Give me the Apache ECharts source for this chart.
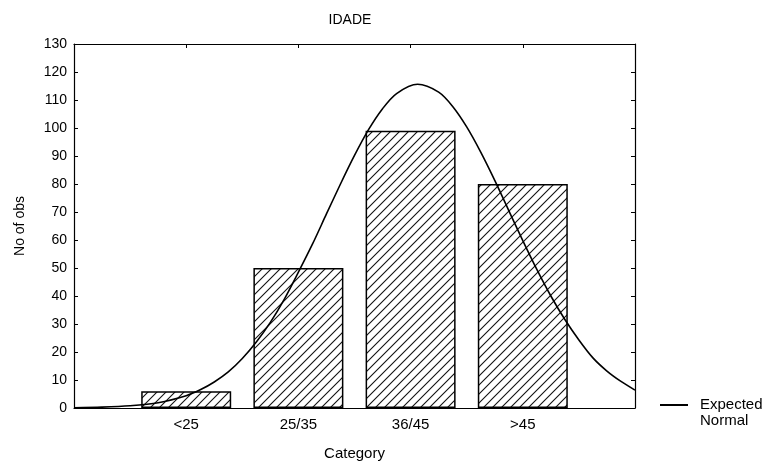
<!DOCTYPE html>
<html><head><meta charset="utf-8">
<script src="https://cdn.jsdelivr.net/npm/echarts@6/dist/echarts.min.js"></script>
<style>html,body{margin:0;padding:0;background:#fff}#c{width:766px;height:462px}</style>
</head><body><div id="c"></div>
<script>
const title = 'IDADE';
const categories = ['<25', '25/35', '36/45', '>45'];
const counts = [6, 50, 99, 80];
// Expected normal curve (x in category slots, 0..5)
const curveX = [0, 0.25, 0.5, 0.75, 1, 1.125, 1.25, 1.375, 1.5, 1.625, 1.75, 1.875, 2, 2.125, 2.25, 2.375, 2.5, 2.625, 2.75, 2.875, 3.0625, 3.25, 3.375, 3.5, 3.625, 3.75, 3.875, 4, 4.125, 4.25, 4.375, 4.5, 4.625, 4.75, 4.875, 5];
const curveY = [0.1, 0.3, 0.8, 1.9, 4.4, 6.5, 9.3, 12.9, 17.7, 23.6, 30.6, 38.9, 48.5, 58.5, 69.3, 80.0, 90.2, 99.4, 106.9, 112.3, 115.6, 112.8, 107.7, 100.4, 91.4, 81.3, 70.5, 59.8, 49.5, 40.0, 31.6, 24.3, 17.9, 13.2, 9.5, 6.4];

function hatch() {
  const s = 9;
  const c = document.createElement('canvas');
  c.width = s; c.height = s;
  const g = c.getContext('2d');
  g.fillStyle = '#fff'; g.fillRect(0, 0, s, s);
  g.strokeStyle = '#111'; g.lineWidth = 1.1;
  g.beginPath();
  g.moveTo(-1, s + 1); g.lineTo(s + 1, -1);
  g.moveTo(-1, 1); g.lineTo(1, -1);
  g.moveTo(s - 1, s + 1); g.lineTo(s + 1, s - 1);
  g.stroke();
  return c;
}

const font = 'Liberation Sans, Arial, sans-serif';
const chart = echarts.init(document.getElementById('c'), null, {renderer: 'canvas'});
const barData = counts.map((v, i) => [i + 1, v]);
const lineData = curveX.map((x, i) => [x, curveY[i]]);
const axisLine = {show: true, onZero: false, lineStyle: {color: '#000', width: 1.2}};
const tick = {show: true, inside: true, length: 4, lineStyle: {color: '#000'}};
chart.setOption({
  animation: false,
  backgroundColor: '#fff',
  title: {text: title, left: 345, top: 8, textAlign: 'center',
    textStyle: {fontFamily: font, fontSize: 14, fontWeight: 'normal', color: '#000'}},
  grid: {left: 74, right: 131, top: 44, bottom: 54, outerBoundsMode: 'none', containLabel: false},
  legend: {
    left: 660, top: 381, itemWidth: 28, itemHeight: 2, itemGap: 0, padding: 0,
    data: [{name: 'Expected Normal', icon: 'rect', itemStyle: {color: '#000'}}],
    formatter: () => ' \nExpected\nNormal',
    textStyle: {fontFamily: font, fontSize: 15, color: '#000', lineHeight: 16, padding: [0, 0, 0, 7]}
  },
  xAxis: [
    {type: 'value', min: 0, max: 5, interval: 1, position: 'bottom',
     name: 'Category', nameLocation: 'middle', nameGap: 38,
     nameTextStyle: {fontFamily: font, fontSize: 15, color: '#000'},
     axisLine: axisLine, splitLine: {show: false}, axisTick: tick,
     axisLabel: {fontFamily: font, fontSize: 15, color: '#000', margin: 9,
       formatter: v => categories[v - 1] || ''}},
    {type: 'value', min: 0, max: 5, interval: 1, position: 'top',
     axisLine: axisLine, splitLine: {show: false}, axisTick: tick,
     axisLabel: {show: false}}
  ],
  yAxis: [
    {type: 'value', min: 0, max: 130, interval: 10, position: 'left',
     name: 'No of obs', nameLocation: 'middle', nameGap: 47,
     nameTextStyle: {fontFamily: font, fontSize: 14, color: '#000'},
     axisLine: axisLine, splitLine: {show: false}, axisTick: tick,
     axisLabel: {fontFamily: font, fontSize: 14, color: '#000', margin: 7}},
    {type: 'value', min: 0, max: 130, interval: 10, position: 'right',
     axisLine: axisLine, splitLine: {show: false}, axisTick: tick,
     axisLabel: {show: false}}
  ],
  series: [
    {type: 'bar', data: barData, barWidth: 90, xAxisIndex: 0, yAxisIndex: 0,
     itemStyle: {color: {image: hatch(), repeat: 'repeat'}, borderColor: '#000', borderWidth: 1.5},
     emphasis: {disabled: true}},
    {type: 'line', name: 'Expected Normal', data: lineData, smooth: 0.3, symbol: 'none',
     xAxisIndex: 0, yAxisIndex: 0, z: 5,
     lineStyle: {color: '#000', width: 1.6}, itemStyle: {color: '#000'}}
  ]
});
</script></body></html>
